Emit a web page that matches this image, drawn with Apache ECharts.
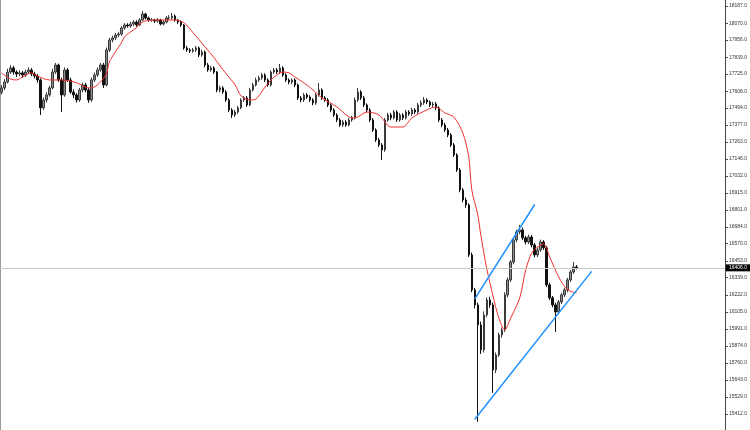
<!DOCTYPE html>
<html><head><meta charset="utf-8">
<script src="https://cdn.jsdelivr.net/npm/echarts@6/dist/echarts.min.js"></script>
<style>html,body{margin:0;padding:0;background:#fff}#c{width:750px;height:430px}</style>
</head><body><div id="c"></div>
<script>
const opens = [
17600,17630,17670,17738,17766,17738,17725,17732,17718,17738,
17752,17725,17711,17684,17494,17548,17582,17630,17738,17786,
17684,17582,17752,17684,17602,17582,17548,17616,17650,17616,
17548,17684,17718,17752,17786,17650,17888,17956,17970,17990,
17997,18038,18058,18051,18065,18078,18058,18092,18133,18106,
18092,18092,18085,18092,18065,18078,18106,18106,18119,18092,
18078,18058,17902,17888,17881,17888,17902,17854,17874,17786,
17752,17766,17738,17616,17630,17602,17548,17480,17446,17466,
17494,17548,17562,17514,17616,17650,17684,17698,17718,17684,
17650,17738,17752,17738,17766,17718,17684,17670,17684,17650,
17562,17548,17582,17568,17548,17528,17582,17616,17562,17548,
17514,17480,17446,17412,17378,17398,17378,17412,17426,17548,
17602,17562,17514,17480,17412,17344,17276,17242,17208,17412,
17446,17426,17466,17412,17446,17426,17466,17453,17480,17466,
17514,17528,17548,17534,17514,17521,17494,17412,17378,17344,
17310,17242,17174,17072,16936,16868,16834,16494,16256,16154,
16018,15848,16086,16188,16154,15712,15814,15950,15984,16222,
16324,16446,16596,16650,16664,16610,16582,16616,16562,16494,
16528,16582,16542,16290,16202,16154,16106,16174,16222,16256,
16324,16378,16412];
const closes = [
17630,17670,17738,17766,17738,17725,17732,17718,17738,17752,
17725,17711,17684,17494,17548,17582,17630,17738,17786,17684,
17582,17752,17684,17602,17582,17548,17616,17650,17616,17548,
17684,17718,17752,17786,17650,17888,17956,17970,17990,17997,
18038,18058,18051,18065,18078,18058,18092,18133,18106,18092,
18092,18085,18092,18065,18078,18106,18106,18119,18092,18078,
18058,17902,17888,17881,17888,17902,17854,17874,17786,17752,
17766,17738,17616,17630,17602,17548,17480,17446,17466,17494,
17548,17562,17514,17616,17650,17684,17698,17718,17684,17650,
17738,17752,17738,17766,17718,17684,17670,17684,17650,17562,
17548,17582,17568,17548,17528,17582,17616,17562,17548,17514,
17480,17446,17412,17378,17398,17378,17412,17426,17548,17602,
17562,17514,17480,17412,17344,17276,17242,17208,17412,17446,
17426,17466,17412,17446,17426,17466,17453,17480,17466,17514,
17528,17548,17534,17514,17521,17494,17412,17378,17344,17310,
17242,17174,17072,16936,16868,16834,16494,16256,16154,16018,
15848,16086,16188,16154,15712,15814,15950,15984,16222,16324,
16446,16596,16650,16664,16610,16582,16616,16562,16494,16528,
16582,16542,16290,16202,16154,16106,16174,16222,16256,16324,
16378,16412,16406];
const lows = [
17585,17615,17660,17725,17720,17705,17710,17700,17705,17725,
17710,17695,17665,17446,17480,17530,17570,17620,17725,17670,
17466,17570,17670,17590,17560,17530,17535,17600,17600,17528,
17535,17670,17705,17740,17630,17640,17875,17940,17955,17975,
17985,18025,18040,18040,18050,18045,18050,18085,18095,18080,
18080,18072,18075,18055,18055,18070,18092,18095,18080,18065,
18045,17890,17875,17868,17870,17875,17840,17842,17770,17740,
17740,17725,17600,17600,17590,17535,17465,17425,17432,17455,
17485,17535,17500,17505,17605,17640,17670,17685,17670,17638,
17640,17725,17725,17725,17705,17670,17655,17655,17635,17548,
17532,17535,17555,17535,17512,17515,17570,17548,17535,17500,
17465,17432,17398,17365,17365,17365,17368,17400,17415,17535,
17548,17500,17465,17398,17330,17262,17228,17140,17195,17400,
17410,17415,17398,17400,17412,17415,17440,17440,17452,17455,
17500,17515,17520,17500,17500,17480,17398,17362,17330,17295,
17228,17160,17058,16920,16852,16815,16480,16240,16130,15358,
15820,15830,16070,16135,15556,15690,15800,15930,15970,16205,
16310,16430,16580,16635,16595,16565,16568,16545,16478,16480,
16515,16528,16275,16188,16138,15970,16090,16160,16208,16240,
16310,16365,16395];
const highs = [
17650,17690,17760,17785,17780,17750,17750,17745,17755,17770,
17765,17740,17725,17695,17565,17600,17645,17760,17800,17795,
17700,17770,17765,17700,17620,17595,17630,17665,17665,17630,
17700,17735,17770,17800,17800,17905,17970,17985,18005,18012,
18050,18070,18070,18080,18090,18090,18105,18153,18140,18115,
18105,18100,18105,18100,18090,18120,18125,18140,18130,18100,
18090,18065,17915,17900,17902,17915,17912,17890,17885,17800,
17780,17778,17745,17645,17642,17615,17560,17492,17480,17508,
17560,17575,17575,17630,17665,17700,17712,17732,17730,17695,
17750,17765,17765,17793,17778,17730,17695,17695,17695,17660,
17575,17595,17595,17580,17560,17595,17664,17628,17575,17560,
17525,17492,17458,17425,17412,17410,17425,17440,17565,17630,
17615,17575,17525,17492,17425,17355,17290,17255,17425,17460,
17460,17480,17478,17460,17458,17480,17478,17495,17492,17528,
17545,17568,17560,17545,17535,17535,17505,17425,17392,17358,
17322,17255,17186,17085,16950,16885,16845,16510,16270,16170,
16040,16110,16205,16210,16170,15830,15965,16000,16240,16340,
16460,16612,16665,16698,16680,16625,16632,16630,16575,16545,
16598,16595,16555,16305,16215,16168,16188,16236,16270,16338,
16392,16446,16425];
const maIdx = [0,3,5,7,10,12,16,20,23,26,29,31,33,35,36,38,40,41,43,45,46,48,51,55,58,61,64,68,71,74,78,80,83,85,88,91,94,96,98,101,104,107,112,116,118,122,126,130,134,137,142,145,148,151,154,156,157,159,160,162,164,166,168,170,173,175,177,179,181,183,186,189,192];
const maVal = [17732,17691,17684,17704,17732,17711,17684,17684,17677,17657,17630,17636,17670,17725,17806,17874,17936,17976,18010,18038,18065,18085,18092,18092,18092,18072,18004,17908,17834,17752,17650,17575,17548,17555,17636,17704,17738,17732,17704,17664,17616,17562,17500,17432,17426,17466,17446,17364,17364,17426,17480,17500,17460,17432,17324,17160,16936,16766,16630,16400,16222,16066,15984,16066,16202,16392,16508,16548,16569,16480,16344,16256,16236];
const upperChannel = [[158,16195],[178,16837]];
const lowerChannel = [[158,15376],[197,16382]];
const currentPrice = 16406;
const tickValues = [18187,18070,17956,17839,17725,17608,17494,17377,17263,17146,17032,16915,16801,16684,16570,16453,16339,16222,16105,15991,15874,15760,15643,15529,15412];
const totalSlots = 242;
const yMin = 15303, yMax = 18228;

const cats = [];
for (let i = 0; i < totalSlots; i++) cats.push(String(i));
const candles = opens.map((o, i) => [o, closes[i], lows[i], highs[i]]);
const maData = maIdx.map((ix, k) => [ix, maVal[k]]);

const chart = echarts.init(document.getElementById('c'), null, {renderer: 'canvas'});
chart.setOption({
  animation: false,
  backgroundColor: '#ffffff',
  grid: {left: 0, right: 22, top: 0, bottom: 0},
  xAxis: {type: 'category', data: cats, boundaryGap: true, show: false},
  yAxis: [{
    type: 'value', position: 'right', min: yMin, max: yMax, scale: true,
    splitLine: {show: false},
    axisLine: {show: true, lineStyle: {color: '#444', width: 1}},
    axisTick: {show: true, inside: false, length: 3, customValues: tickValues, lineStyle: {color: '#444'}},
    axisLabel: {show: true, customValues: tickValues, fontSize: 5, color: '#333', margin: 4,
      fontFamily: 'Liberation Sans', formatter: v => Number(v).toFixed(1)}
  }, {
    type: 'value', position: 'left', min: yMin, max: yMax,
    splitLine: {show: false},
    axisLine: {show: true, lineStyle: {color: '#999', width: 2}},
    axisTick: {show: false}, axisLabel: {show: false}
  }],
  series: [{
    type: 'candlestick', data: candles, barWidth: 2,
    itemStyle: {color: '#8c8c8c', color0: '#111111', borderColor: '#3a3a3a', borderColor0: '#111', borderWidth: 1},
    markLine: {
      silent: true, symbol: 'none', animation: false,
      lineStyle: {color: '#c8c8c8', width: 1, type: 'solid'},
      label: {show: true, position: 'end', distance: 1, formatter: () => currentPrice.toFixed(1),
        backgroundColor: '#000', color: '#fff', fontSize: 5, padding: [1, 3], fontFamily: 'Liberation Sans'},
      data: [{yAxis: currentPrice}]
    },
    z: 3
  }, {
    type: 'line', data: maData, smooth: 0.3, symbol: 'none',
    lineStyle: {color: '#f03030', width: 1}, z: 4
  }, {
    type: 'line', data: upperChannel, symbol: 'none',
    lineStyle: {color: '#1e90ff', width: 1.5}, z: 5
  }, {
    type: 'line', data: lowerChannel, symbol: 'none',
    lineStyle: {color: '#1e90ff', width: 1.5}, z: 5
  }]
});
</script></body></html>
